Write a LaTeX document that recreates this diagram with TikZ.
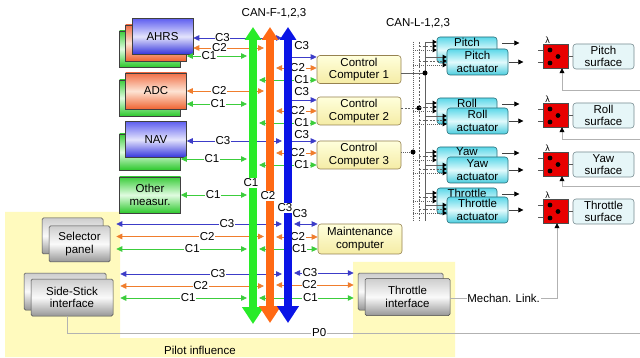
\documentclass[tikz,border=0pt]{standalone}
\usepackage{fontspec}
\setmainfont{Liberation Sans}
\usetikzlibrary{arrows.meta}
\definecolor{busG}{RGB}{40,235,40}
\definecolor{busO}{RGB}{255,105,20}
\definecolor{busB}{RGB}{10,20,230}
\definecolor{lnG}{RGB}{60,205,60}
\definecolor{lnO}{RGB}{240,125,45}
\definecolor{lnB}{RGB}{60,60,200}
\definecolor{pilot}{RGB}{255,250,190}
\definecolor{dBt}{RGB}{95,95,240}
\definecolor{dBm}{RGB}{228,228,252}
\definecolor{dBb}{RGB}{50,50,220}
\definecolor{dOt}{RGB}{240,110,70}
\definecolor{dOm}{RGB}{253,228,212}
\definecolor{dOb}{RGB}{240,100,50}
\definecolor{dGt}{RGB}{60,205,60}
\definecolor{dGm}{RGB}{225,252,225}
\definecolor{dGb}{RGB}{45,200,45}
\definecolor{gyt}{RGB}{205,205,205}
\definecolor{gym}{RGB}{250,250,250}
\definecolor{gyb}{RGB}{150,150,150}
\definecolor{cct}{RGB}{255,255,220}
\definecolor{ccb}{RGB}{245,236,165}
\definecolor{ccd}{RGB}{150,130,80}
\definecolor{act}{RGB}{90,215,232}
\definecolor{acm}{RGB}{225,250,252}
\definecolor{acb}{RGB}{75,205,222}
\definecolor{acd}{RGB}{40,110,120}
\definecolor{srf}{RGB}{230,246,248}
\definecolor{srfd}{RGB}{120,140,145}
\definecolor{redb}{RGB}{232,0,0}
\tikzset{
  ah/.tip={Triangle[length=6pt,width=5.5pt]},
  txt/.style={font=\fontsize{11.5}{12.5}\selectfont, align=center, inner sep=0pt},
  lab/.style={font=\fontsize{11.5}{12}\selectfont, fill=white, inner sep=0.6pt},
  dev/.style={txt, draw=black!75, line width=0.5pt, minimum width=61pt, minimum height=36pt},
  devB/.style={dev, top color=dBt, bottom color=dBb, middle color=dBm},
  devO/.style={dev, top color=dOt, bottom color=dOb, middle color=dOm},
  devG/.style={dev, top color=dGt, bottom color=dGb, middle color=dGm},
  grayb/.style={txt, draw=black!70, line width=0.5pt, rounded corners=1.5pt, top color=gyt, bottom color=gyb, middle color=gym},
  ccbox/.style={txt, draw=ccd, line width=0.6pt, rounded corners=3pt, top color=cct, bottom color=ccb, minimum width=84pt, minimum height=28pt},
  actbox/.style={txt, draw=acd, line width=0.6pt, rounded corners=3pt, top color=act, bottom color=acb, middle color=acm, minimum height=26pt},
  surfbox/.style={txt, draw=srfd, line width=0.6pt, rounded corners=3pt, fill=srf, minimum width=61pt, minimum height=25pt},
  redbox/.style={draw=black!70, line width=0.5pt, fill=redb, minimum width=25pt, minimum height=24pt, inner sep=0pt},
  cB/.style={draw=lnB, line width=0.8pt},
  cO/.style={draw=lnO, line width=0.8pt},
  cG/.style={draw=lnG, line width=0.8pt},
  dbl/.style={arrows={ah-ah}},
  fwd/.style={arrows={-ah}},
  busS/.style={line width=8pt, arrows={{Triangle[width=21pt,length=17pt]}-{Triangle[width=16pt,length=13pt]}}},
  canA/.style={draw=gray!75!black, line width=0.6pt},
  canB/.style={canA, dash pattern=on 2pt off 1.5pt},
  canC/.style={canA, dash pattern=on 0.8pt off 1.2pt},
  brt/.style={arrows={-Triangle[length=4pt,width=4.5pt,color=black]}},
  outa/.style={draw=black!75, line width=0.7pt, arrows={-Triangle[length=5pt,width=5pt,color=black]}},
  fbl/.style={draw=gray!60, line width=0.8pt, arrows={-Triangle[length=5pt,width=5pt,color=black]}},
  dotn/.style={circle, fill=black, inner sep=0pt, minimum size=5pt},
  lam/.style={font=\fontsize{9}{9}\selectfont, inner sep=0pt}
}
\begin{document}
\begin{tikzpicture}[x=1pt,y=-1pt]
\useasboundingbox (0,0) rectangle (640,358);
\fill[white] (0,0) rectangle (640,358);
\fill[pilot] (5,212) -- (120,212) -- (120,338) -- (353,338) -- (353,262) -- (455,262) -- (455,357) -- (5,357) -- cycle;
\node[txt] (pilotlab) at (200,350) {Pilot influence};
\node[txt] (canf) at (274,13) {CAN-F-1,2,3};
\node[txt] (canl) at (418,23) {CAN-L-1,2,3};

% bus coordinates
\coordinate (gB) at (253,0); \coordinate (oB) at (270,0); \coordinate (bB) at (288,0);
\coordinate (gl) at (247,0); \coordinate (gr) at (259,0);
\coordinate (ol) at (264,0); \coordinate (or) at (276,0);
\coordinate (bl) at (282,0); \coordinate (br) at (294,0);

% sensor boxes
\node[devG] (ahrsg) at (150,49) {};
\node[devO] (ahrso) at (156,43) {};
\node[devB] (ahrs) at (162.5,36.5) {AHRS};
\node[devG] (adcg) at (150,98) {};
\node[devO] (adc) at (156,91) {ADC};
\node[devG] (navg) at (150,152) {};
\node[devB] (nav) at (156,139.5) {NAV};
\node[devG] (oth) at (150,195) {Other\\measur.};

% pilot devices
\node[grayb, minimum width=61pt, minimum height=36pt] (selb) at (72.5,236) {};
\node[grayb, minimum width=61pt, minimum height=36pt] (sel) at (79.5,244) {Selector\\panel};
\node[grayb, minimum width=82pt, minimum height=37pt] (ssb) at (65,291.5) {};
\node[grayb, minimum width=82pt, minimum height=37pt] (ss) at (72,297.5) {Side-Stick\\interface};
\node[grayb, minimum width=85pt, minimum height=37pt] (tib) at (400.5,291.5) {};
\node[grayb, minimum width=85pt, minimum height=37pt] (ti) at (407.5,297) {Throttle\\interface};

% computers
\node[ccbox] (cc1) at (359,69.5) {Control\\Computer 1};
\node[ccbox] (cc2) at (359,111) {Control\\Computer 2};
\node[ccbox] (cc3) at (359,155) {Control\\Computer 3};
\node[ccbox, minimum height=30pt] (mc) at (360,239) {Maintenance\\computer};

% actuators
\foreach \n/\bt/\ft/\t in {pitch/37/49/Pitch, roll/98/108/Roll, yaw/147/157/Yaw, thr/188/197/Throttle}{
  \pgfmathsetmacro\yb{\bt+13}\pgfmathsetmacro\yf{\ft+13}
  \node[actbox, minimum width=60pt, label={[txt,anchor=north,yshift=-1pt]north:\t}] (\n b) at (467,\yb) {};
  \node[actbox, minimum width=61pt] (\n f) at (477.5,\yf) {\t\\actuator};
}

% red blocks and surfaces
\foreach \n/\y/\t in {pitch/56/Pitch, roll/115/Roll, yaw/164/Yaw, thr/211/Throttle}{
  \node[redbox, label={[lam,xshift=-8pt]above:λ}] (\n r) at (555.5,\y) {};
  \node[surfbox] (\n s) at (603.5,\y+0.5) {\t\\surface};
  \fill ([xshift=-5.5pt,yshift=6pt]\n r.center) circle[radius=2.4pt];
  \fill ([xshift=2.5pt,yshift=-0.5pt]\n r.center) circle[radius=2.4pt];
  \fill ([xshift=-5.5pt,yshift=-7pt]\n r.center) circle[radius=2.4pt];
  \draw[gray!70!black, line width=0.6pt] (\n r.east) -- (\n s.west |- \n r.east);
  \draw[gray!70!black, line width=0.6pt] ([yshift=6pt]\n r.west) -- ++(-5,0);
  \draw[gray!70!black, line width=0.6pt] ([yshift=-6pt]\n r.west) -- ++(-5,0);
}

% left connectors
\draw[cB,dbl] (ahrs.east |- 0,38) -- node[lab,pos=0.33]{C3} (bl |- 0,38);
\draw[cO,dbl] (ahrs.east |- 0,48) -- node[lab,pos=0.37]{C2} (ol |- 0,48);
\draw[cG,dbl] (ahrso.east |- 0,56) -- node[lab,pos=0.37]{C1} (gl |- 0,56);
\draw[cO,dbl] (adc.east |- 0,91) -- node[lab,pos=0.42]{C2} (ol |- 0,91);
\draw[cG,dbl] (adc.east |- 0,104) -- node[lab,pos=0.52]{C1} (gl |- 0,104);
\draw[cB,dbl] (nav.east |- 0,141) -- node[lab,pos=0.38]{C3} (bl |- 0,141);
\draw[cG,dbl] (navg.east |- 0,159) -- node[lab,pos=0.47]{C1} (gl |- 0,159);
\draw[cG,dbl] (oth.east |- 0,195) -- node[lab,pos=0.49]{C1} (gl |- 0,195);
\draw[cB,dbl,shorten <=6pt] (sel.east |- 0,224) -- node[lab,pos=0.68]{C3} (bl |- 0,224);
\draw[cO,dbl,shorten <=6pt] (sel.east |- 0,236.5) -- node[lab,pos=0.63]{C2} (ol |- 0,236.5);
\draw[cG,dbl,shorten <=6pt] (sel.east |- 0,249) -- node[lab,pos=0.60]{C1} (gl |- 0,249);
\draw[cB,dbl,shorten <=7pt] (ss.east |- 0,274) -- node[lab,pos=0.62]{C3} (bl |- 0,274);
\draw[cO,dbl,shorten <=7pt] (ss.east |- 0,286) -- node[lab,pos=0.58]{C2} (ol |- 0,286);
\draw[cG,dbl,shorten <=7pt] (ss.east |- 0,298) -- node[lab,pos=0.56]{C1} (gl |- 0,298);

% right connectors
\foreach \c/\ya/\yb/\yc/\ys in {cc1/57/68/80/11, cc2/100/111/123/8, cc3/141/153/165/6.5}{
  \draw[cB,fwd] (bB |- 0,\ya) -- node[lab,pos=0.48,yshift=\ys pt]{C3} (\c.west |- 0,\ya);
  \draw[cO,dbl] (or |- 0,\yb) -- node[lab,pos=0.53]{C2} (\c.west |- 0,\yb);
  \draw[cG,dbl] (gr |- 0,\yc) -- node[lab,pos=0.74]{C1} (\c.west |- 0,\yc);
}
\draw[cB,dbl] (br |- 0,224) -- node[lab,pos=0.25,yshift=10pt]{C3} (mc.west |- 0,224);
\draw[cO,dbl] (or |- 0,237) -- node[lab,pos=0.52]{C2} (mc.west |- 0,237);
\draw[cG,dbl] (gr |- 0,249) -- node[lab,pos=0.69]{C1} (mc.west |- 0,249);
\draw[cB,dbl,shorten >=4pt] (br |- 0,273) -- node[lab,pos=0.25]{C3} (tib.west |- 0,273);
\draw[cO,dbl,shorten >=4pt] (or |- 0,285) -- node[lab,pos=0.41]{C2} (tib.west |- 0,285);
\draw[cG,dbl,shorten >=4pt] (gr |- 0,298) -- node[lab,pos=0.52]{C1} (tib.west |- 0,298);

% CAN-F buses
\draw[busS, busG] (gB |- 0,324) -- (gB |- 0,27);
\draw[busS, busO] (oB |- 0,323) -- (oB |- 0,27);
\draw[busS, busB] (bB |- 0,323) -- (bB |- 0,27);
\node[lab] (bus1) at (251,183) {C1};
\node[lab] (bus2) at (268,196) {C2};
\node[lab] (bus3) at (285,208) {C3};

% CAN-L buses
\coordinate (l1) at (425,42); \coordinate (l2) at (419,42); \coordinate (l3) at (413,42);
\draw[canA] (l1) -- (l1 |- 0,221);
\draw[canB] (l2) -- (l2 |- 0,221);
\draw[canC] (l3) -- (l3 |- 0,221);
\draw[canA] (cc1.east |- 0,73) -- (l1 |- 0,73) node[dotn] (d1) {};
\draw[canB] (cc2.east |- 0,108) -- (l2 |- 0,108) node[dotn] (d2) {};
\draw[canC] (cc3.east |- 0,152) -- (l3 |- 0,152) node[dotn] (d3) {};
\foreach \n/\bt/\ft in {pitch/37/49, roll/98/108, yaw/147/157, thr/188/197}{
  \pgfmathsetmacro\ya{\bt+5}\pgfmathsetmacro\yb{\bt+9}\pgfmathsetmacro\yc{\bt+13}
  \pgfmathsetmacro\yd{\ft+8}\pgfmathsetmacro\ye{\ft+12}\pgfmathsetmacro\yf{\ft+16}
  \draw[canA,brt] (l1 |- 0,\ya) -- (\n b.west |- 0,\ya);
  \draw[canB,brt] (l2 |- 0,\yb) -- (\n b.west |- 0,\yb);
  \draw[canC,brt] (l3 |- 0,\yc) -- (\n b.west |- 0,\yc);
  \draw[canA,brt] (l1 |- 0,\yd) -- (\n f.west |- 0,\yd);
  \draw[canB,brt] (l2 |- 0,\ye) -- (\n f.west |- 0,\ye);
  \draw[canC,brt] (l3 |- 0,\yf) -- (\n f.west |- 0,\yf);
  \pgfmathsetmacro\yo{\bt+6}\pgfmathsetmacro\yp{\ft+13}
  \draw[outa,shorten <=5pt] (\n b.east |- 0,\yo) -- ++(22,0);
  \draw[outa,shorten <=1pt] (\n f.east |- 0,\yp) -- ++(15,0);
}

% feedback
\coordinate (fp) at (640,90); \coordinate (fr) at (640,139); \coordinate (fy) at (640,186);
\draw[fbl] (fp) -| ([xshift=6.5pt]pitchr.south);
\draw[fbl] (fr) -| ([xshift=6.5pt]rollr.south);
\draw[fbl] (fy) -| ([xshift=6.5pt]yawr.south);
\draw[fbl] (ti.east |- 0,298) -| node[lab,pos=0.25]{Mechan. Link.} ([xshift=1.5pt]thrr.south);
\coordinate (p0) at (640,333);
\draw[draw=gray!60, line width=0.8pt] ([xshift=-5pt]ss.south) |- node[lab,pos=0.72]{P0} (p0);
\end{tikzpicture}
\end{document}
